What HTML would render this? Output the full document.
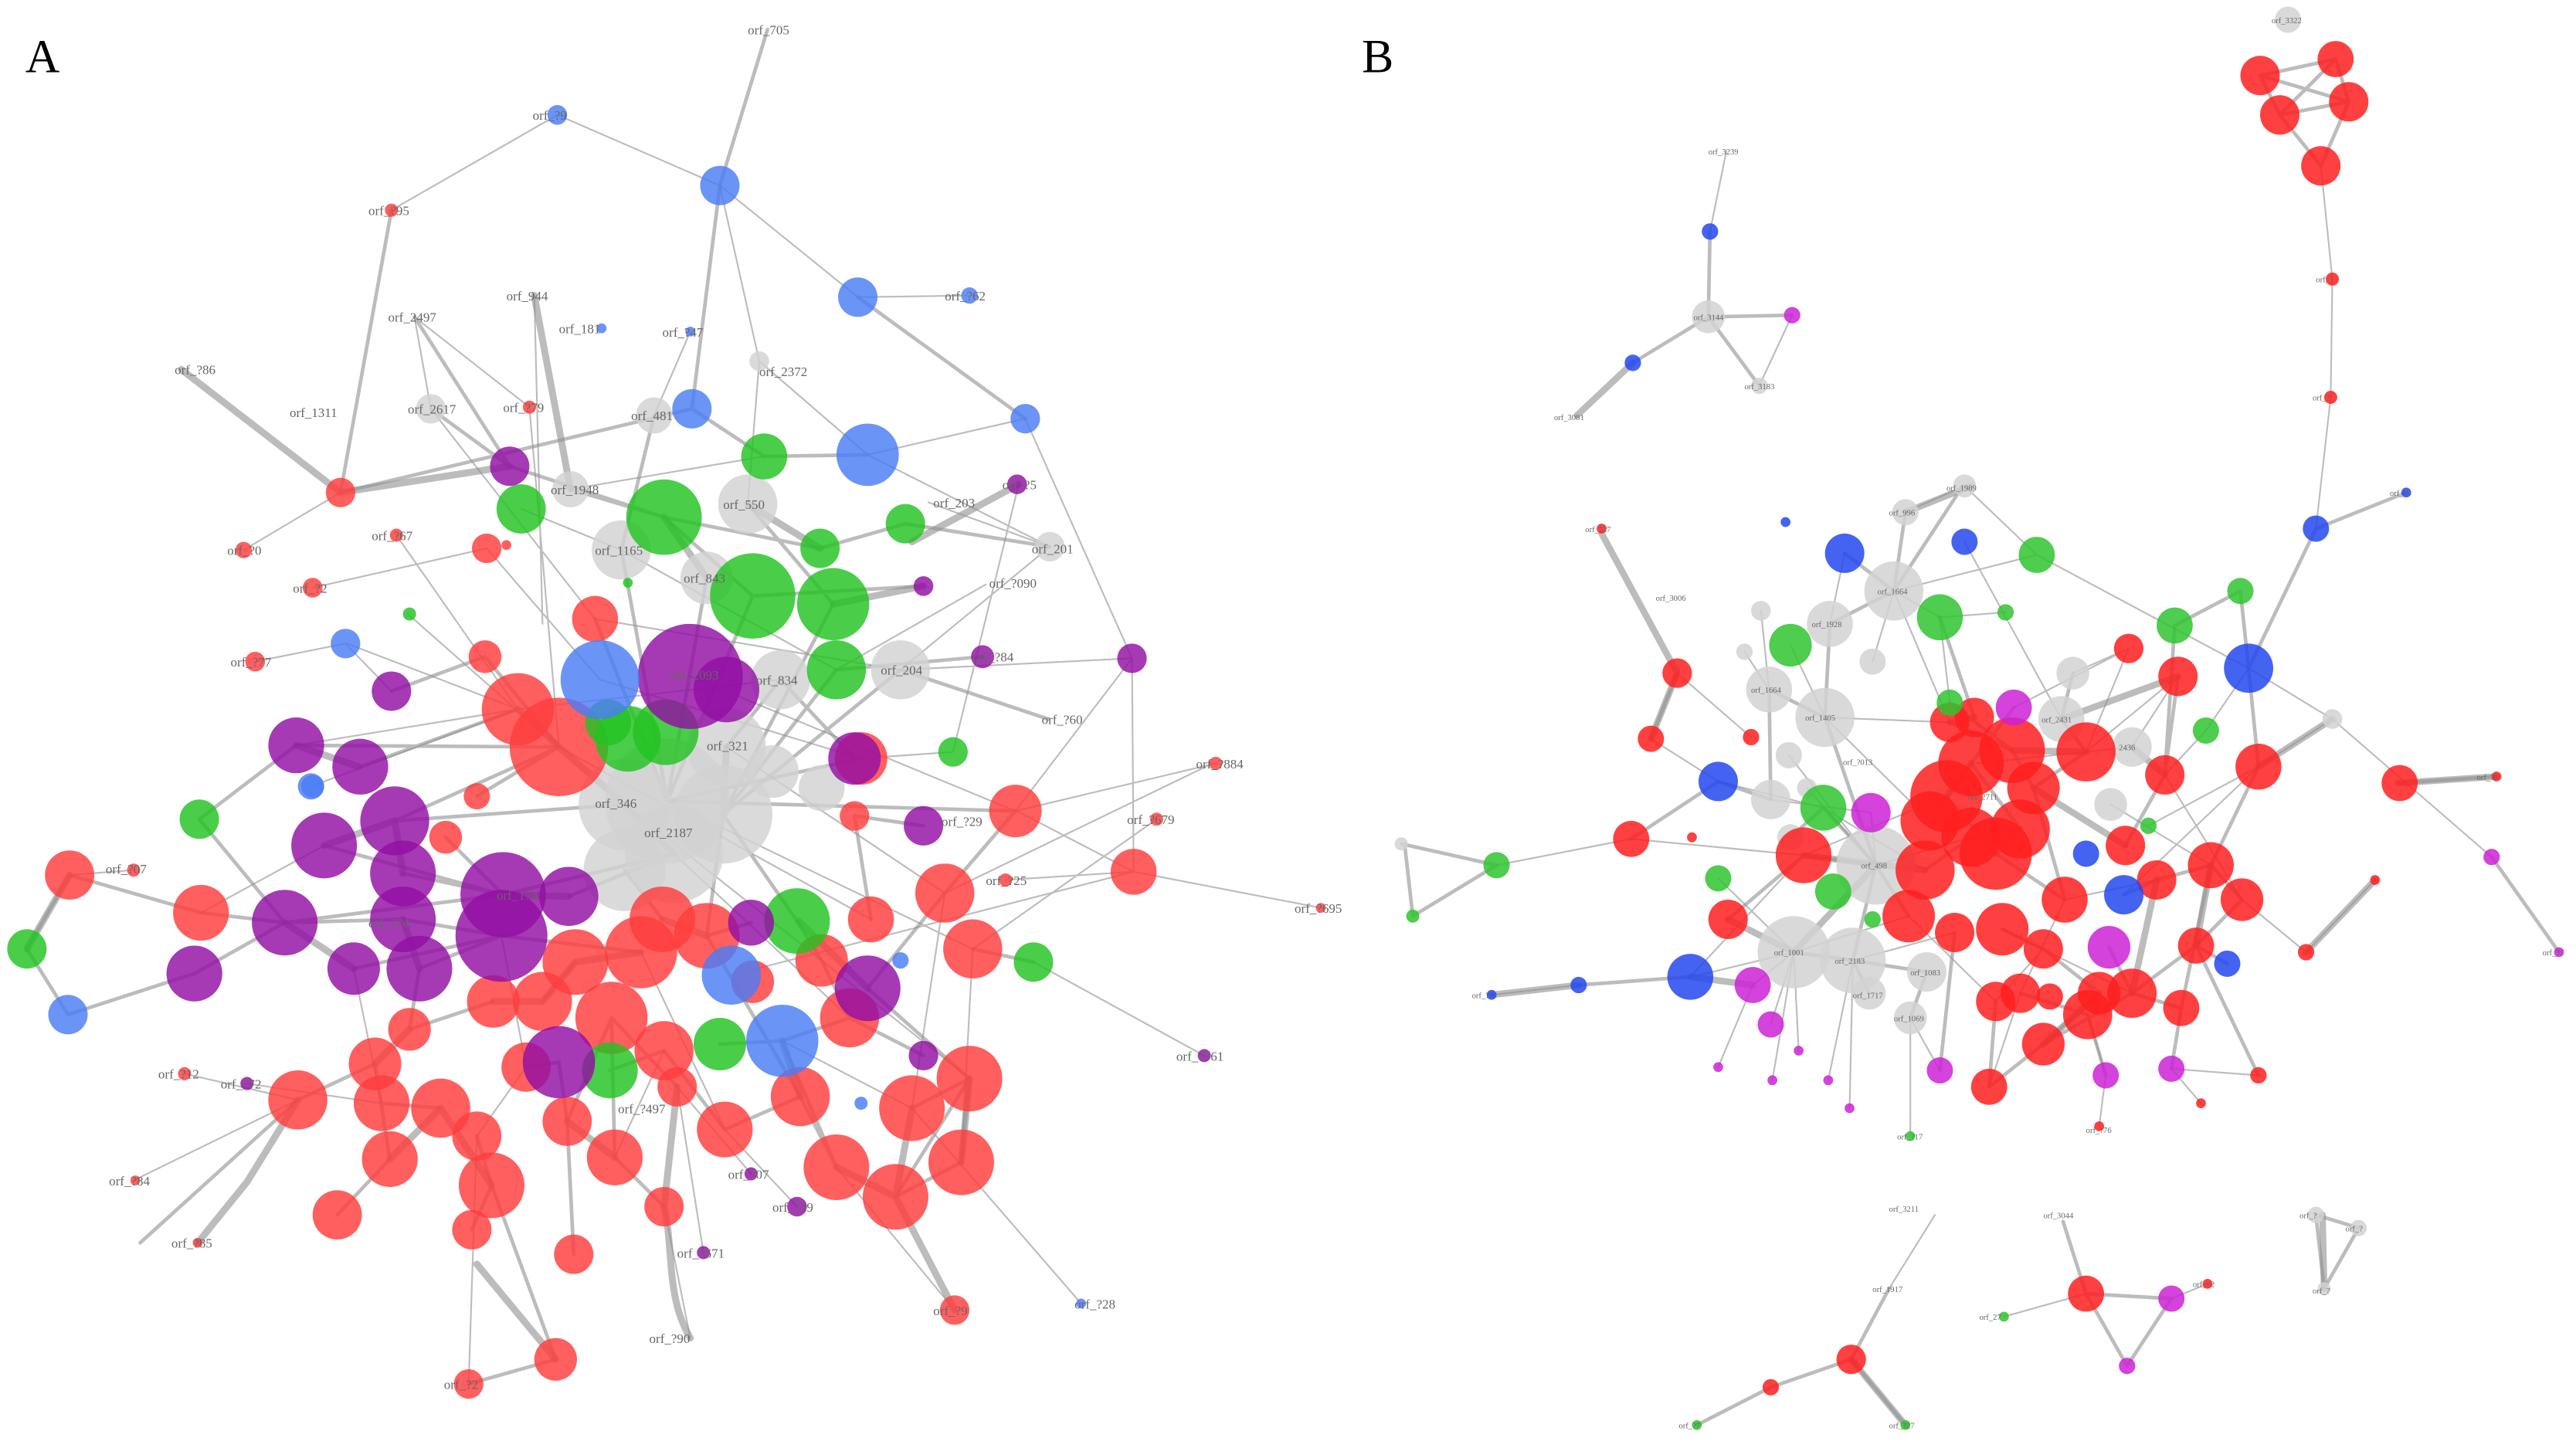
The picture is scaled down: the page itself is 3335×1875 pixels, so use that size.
<!DOCTYPE html>
<html><head><meta charset="utf-8"><style>
html,body{margin:0;padding:0;background:#fff}
svg{display:block}
text{font-family:"Liberation Serif",serif}
.l{font-size:8px;fill:#666}
</style></head><body>
<svg width="3335" height="1875" viewBox="0 0 1568 882" xmlns="http://www.w3.org/2000/svg">
<rect width="1568" height="882" fill="#fff"/>
<text x="15" y="44" font-size="29" fill="#000">A</text>
<text x="829" y="44" font-size="29" fill="#000">B</text>

<!-- ===== Panel A edges ===== -->
<g stroke="#8f8f8f" stroke-opacity="0.6" fill="none" stroke-linecap="round">
<path stroke-width="1" d="M339 70L438 113M339 70L238 128M438 113L522 181M522 181L590 180M624 255L689 401M689 401L690 531M252 193L262 249M325 180L330 380M528 277L639 333M639 333L548 408M689 401L618 494M740 465L618 494M704 499L592 578M804 553L690 531M733 643L629 586M658 794L555 675M148 335L207 300M190 358L296 334M155 403L210 392M81 530L42 533M112 654L181 670M81 719L181 670M420 202L398 253M462 220L455 307M462 220L528 277M565 306L639 333M241 326L315 432M322 248L340 455M600 356L509 408M211 392L315 432M738 465L575 544M612 536L690 531M581 798L509 711M420 815L404 735M285 843L290 692M445 594L690 531M150 660L232 672M485 735L441 688M457 715L412 662M428 763L412 662M620 295L580 458M624 255L528 277M248 374L340 455M252 193L322 248M180 454L315 432M619 494L690 531
M365 414L524 462M420 412L618 494M442 455L575 544M406 488L592 578M380 490L500 585M410 520L517 620M340 455L530 560M315 432L475 414M362 377L548 408M378 335L509 408M347 298L465 278M262 249L362 377M296 334L365 414M317 310L378 335M189 479L315 432M122 556L197 515M215 590L232 672M305 570L320 650M390 580L441 688M500 585L590 657M575 544L555 675M592 578L585 708M404 640L374 705M476 634L555 675M290 692L320 650M438 113L462 220M210 392L238 421M548 408L689 401M524 462L580 458"/>
<path stroke-width="2.2" d="M467 18L438 113M438 113L421 249M522 181L624 255M207 300L421 249M238 128L207 300M262 249L310 284M347 298L404 315M404 315L458 363M455 307L507 368M499 334L551 319M551 319L639 333M398 253L378 335M421 249L465 278M465 278L528 277M378 335L406 488M430 352L406 488M458 363L406 488M507 368L440 496M509 408L440 496M548 408L440 496M562 357L458 363M598 400L509 408M548 408L638 438M475 414L520 462M362 377L406 488M295 400L340 455M180 454L340 455M219 467L315 432M240 500L380 490M197 515L306 545M245 532L306 545M173 562L245 560M245 560L305 570M215 590L305 570M255 590L305 570M118 593L173 562M121 499L180 454M42 533L122 556M41 618L118 593M16 578L41 618M16 578L42 533M122 556L173 562M306 545L410 520M346 546L410 520M305 570L390 580M403 560L380 530M430 570L440 496M485 561L440 496M500 585L485 561M517 620L476 634M528 602L575 544M575 544L618 494M592 578L629 586M530 560L520 497M562 503L520 497M590 657L555 675M590 657L545 729M585 708L545 729M509 711L487 668M487 668L441 688M441 688L404 640M412 662L372 620M374 705L372 620M345 683L340 647M299 722L290 692M268 675L232 672M237 706L228 648M249 627L300 610M205 740L237 706M287 749L299 722M349 764L345 683M338 828L299 722M285 843L338 828M181 670L228 648M181 670L85 757M404 735L374 705M330 610L350 586M320 650L340 647M500 585L517 620M562 643L517 620M476 634L509 711M585 708L590 657M438 636L476 634M371 652L404 640M457 562L430 570M252 193L310 284M121 499L173 562M238 421L295 400M290 485L340 455M271 510L306 545M442 455L475 414M406 488L524 462M406 488L618 494
M404 315L499 334M310 284L404 315M173 562L306 545M240 500L340 455M255 590L249 627M430 570L487 668M372 620L345 683M528 602L590 657M232 672L268 675"/>
<path stroke-width="4.2" d="M110 225L207 300M325 180L347 298M207 300L310 284M455 307L499 334M507 368L562 357M404 315L430 352M380 490L410 520M442 455L440 496M340 455L380 490M315 432L340 455M240 500L245 532M197 515L240 500M173 562L215 590M255 590L245 560M306 545L346 546M42 533L16 578M390 580L350 586M403 560L430 570M486 561L528 602M555 675L545 729M509 711L545 729M404 735L412 662M420 815C405 790 410 760 404 735M338 828L290 770M237 706L268 675M299 722L268 675M374 705L345 683M590 657L585 708M581 798L545 729M476 634L487 668M350 586L330 610M330 610L300 610M249 627L228 648M181 670L150 720L120 757M620 295L555 330M218 467L180 454"/>
</g>

<!-- Panel A nodes -->
<g fill-opacity="0.82">
<g fill="#d2d2d2">
<circle cx="262" cy="249" r="9"/><circle cx="398" cy="253" r="11"/><circle cx="347" cy="298" r="11"/><circle cx="378" cy="335" r="18"/><circle cx="455" cy="307" r="18"/><circle cx="430" cy="352" r="16"/><circle cx="475" cy="414" r="18"/><circle cx="548" cy="408" r="18"/><circle cx="639" cy="333" r="9"/><circle cx="462" cy="220" r="6"/><circle cx="442" cy="455" r="24"/><circle cx="406" cy="488" r="38"/><circle cx="440" cy="496" r="30"/><circle cx="380" cy="490" r="28"/><circle cx="410" cy="520" r="30"/><circle cx="380" cy="530" r="25"/><circle cx="470" cy="470" r="16"/><circle cx="500" cy="480" r="14"/>
</g>
<g fill="#ff3c3c">
<circle cx="207" cy="300" r="9"/><circle cx="296" cy="334" r="9"/><circle cx="362" cy="377" r="14"/><circle cx="148" cy="335" r="5"/><circle cx="190" cy="358" r="6"/><circle cx="155" cy="403" r="6"/><circle cx="241" cy="326" r="4"/><circle cx="322" cy="248" r="4"/><circle cx="238" cy="128" r="4"/><circle cx="295" cy="400" r="10"/><circle cx="315" cy="432" r="22"/><circle cx="340" cy="455" r="30"/><circle cx="290" cy="485" r="8"/><circle cx="271" cy="510" r="10"/><circle cx="42" cy="533" r="15"/><circle cx="122" cy="556" r="17"/><circle cx="81" cy="530" r="4"/><circle cx="524" cy="462" r="16"/><circle cx="618" cy="494" r="16"/><circle cx="575" cy="544" r="18"/><circle cx="592" cy="578" r="18"/><circle cx="690" cy="531" r="14"/><circle cx="520" cy="497" r="9"/><circle cx="740" cy="465" r="4"/><circle cx="704" cy="499" r="4"/><circle cx="612" cy="536" r="4"/><circle cx="804" cy="553" r="3"/><circle cx="403" cy="560" r="20"/><circle cx="430" cy="570" r="20"/><circle cx="390" cy="580" r="22"/><circle cx="350" cy="586" r="20"/><circle cx="330" cy="610" r="18"/><circle cx="300" cy="610" r="16"/><circle cx="372" cy="620" r="22"/><circle cx="404" cy="640" r="18"/><circle cx="500" cy="585" r="16"/><circle cx="517" cy="620" r="18"/><circle cx="530" cy="560" r="14"/><circle cx="590" cy="657" r="20"/><circle cx="555" cy="675" r="20"/><circle cx="487" cy="668" r="18"/><circle cx="509" cy="711" r="20"/><circle cx="545" cy="729" r="20"/><circle cx="585" cy="708" r="20"/><circle cx="441" cy="688" r="17"/><circle cx="412" cy="662" r="12"/><circle cx="374" cy="705" r="17"/><circle cx="345" cy="683" r="15"/><circle cx="299" cy="722" r="20"/><circle cx="268" cy="675" r="18"/><circle cx="232" cy="672" r="17"/><circle cx="237" cy="706" r="17"/><circle cx="249" cy="627" r="13"/><circle cx="228" cy="648" r="16"/><circle cx="290" cy="692" r="15"/><circle cx="320" cy="650" r="15"/><circle cx="181" cy="670" r="18"/><circle cx="205" cy="740" r="15"/><circle cx="287" cy="749" r="12"/><circle cx="349" cy="764" r="12"/><circle cx="404" cy="735" r="12"/><circle cx="338" cy="828" r="13"/><circle cx="285" cy="843" r="9"/><circle cx="581" cy="798" r="9"/><circle cx="112" cy="654" r="4"/><circle cx="82" cy="719" r="3"/><circle cx="120" cy="757" r="3"/><circle cx="308" cy="332" r="3"/><circle cx="458" cy="598" r="13"/>
</g>
<g fill="#22c322">
<circle cx="465" cy="278" r="14"/><circle cx="317" cy="310" r="15"/><circle cx="404" cy="315" r="23"/><circle cx="499" cy="334" r="12"/><circle cx="551" cy="319" r="12"/><circle cx="458" cy="363" r="26"/><circle cx="507" cy="368" r="22"/><circle cx="509" cy="408" r="18"/><circle cx="382" cy="450" r="20"/><circle cx="405" cy="446" r="20"/><circle cx="370" cy="440" r="14"/><circle cx="121" cy="499" r="12"/><circle cx="16" cy="578" r="12"/><circle cx="580" cy="458" r="9"/><circle cx="485" cy="561" r="20"/><circle cx="438" cy="636" r="16"/><circle cx="371" cy="652" r="17"/><circle cx="629" cy="586" r="12"/><circle cx="249" cy="374" r="4"/><circle cx="382" cy="355" r="3"/>
</g>
<g fill="#930fa3">
<circle cx="310" cy="284" r="12"/><circle cx="619" cy="295" r="6"/><circle cx="562" cy="357" r="6"/><circle cx="598" cy="400" r="7"/><circle cx="689" cy="401" r="9"/><circle cx="238" cy="421" r="12"/><circle cx="180" cy="454" r="17"/><circle cx="219" cy="467" r="17"/><circle cx="240" cy="500" r="21"/><circle cx="197" cy="515" r="20"/><circle cx="245" cy="532" r="20"/><circle cx="173" cy="562" r="20"/><circle cx="245" cy="560" r="20"/><circle cx="215" cy="590" r="16"/><circle cx="255" cy="590" r="20"/><circle cx="118" cy="593" r="17"/><circle cx="306" cy="545" r="26"/><circle cx="346" cy="546" r="18"/><circle cx="305" cy="570" r="28"/><circle cx="420" cy="412" r="32"/><circle cx="442" cy="420" r="20"/><circle cx="340" cy="647" r="22"/><circle cx="528" cy="602" r="20"/><circle cx="520" cy="462" r="16"/><circle cx="562" cy="503" r="12"/><circle cx="562" cy="643" r="9"/><circle cx="457" cy="562" r="14"/><circle cx="485" cy="735" r="6"/><circle cx="428" cy="763" r="4"/><circle cx="457" cy="715" r="4"/><circle cx="150" cy="660" r="4"/><circle cx="733" cy="643" r="4"/>
</g>
<g fill="#4a7cf5">
<circle cx="339" cy="70" r="6"/><circle cx="438" cy="113" r="12"/><circle cx="522" cy="181" r="12"/><circle cx="590" cy="180" r="5"/><circle cx="624" cy="255" r="9"/><circle cx="421" cy="249" r="12"/><circle cx="528" cy="277" r="19"/><circle cx="210" cy="392" r="9"/><circle cx="189" cy="479" r="8"/><circle cx="41" cy="618" r="12"/><circle cx="365" cy="414" r="24"/><circle cx="445" cy="594" r="18"/><circle cx="476" cy="634" r="22"/><circle cx="548" cy="585" r="5"/><circle cx="658" cy="794" r="3"/><circle cx="524" cy="672" r="4"/><circle cx="420" cy="202" r="3"/><circle cx="366" cy="200" r="3"/><circle cx="190" cy="479" r="7"/>
</g>
</g>
<g class="l">
<text x="455" y="21">orf_705</text><text x="324" y="73">orf_?9</text><text x="224" y="131">orf_?95</text><text x="236" y="196">orf_2497</text><text x="308" y="183">orf_944</text><text x="340" y="203">orf_181</text><text x="403" y="205">orf_?47</text><text x="462" y="229">orf_2372</text><text x="575" y="183">orf_?62</text><text x="106" y="228">orf_?86</text><text x="176" y="254">orf_1311</text><text x="248" y="252">orf_2617</text><text x="306" y="251">orf_?79</text><text x="384" y="256">orf_481</text><text x="335" y="301">orf_1948</text><text x="440" y="310">orf_550</text><text x="568" y="309">orf_203</text><text x="628" y="337">orf_201</text><text x="362" y="338">orf_1165</text><text x="416" y="355">orf_843</text><text x="602" y="358">orf_?090</text><text x="138" y="338">orf_?0</text><text x="178" y="361">orf_?2</text><text x="226" y="329">orf_?67</text><text x="140" y="406">orf_?77</text><text x="536" y="411">orf_204</text><text x="408" y="414">orf_2093</text><text x="460" y="417">orf_834</text><text x="430" y="457">orf_321</text><text x="362" y="492">orf_346</text><text x="392" y="510">orf_2187</text><text x="302" y="548">orf_174</text><text x="224" y="565">orf_2?4</text><text x="728" y="468">orf_?884</text><text x="686" y="502">orf_?679</text><text x="788" y="556">orf_?695</text><text x="716" y="646">orf_?761</text><text x="64" y="532">orf_?07</text><text x="96" y="657">orf_?12</text><text x="134" y="663">orf_?72</text><text x="66" y="722">orf_?84</text><text x="104" y="760">orf_?85</text><text x="376" y="678">orf_?497</text><text x="470" y="738">orf_?29</text><text x="443" y="718">orf_?07</text><text x="412" y="766">orf_?671</text><text x="395" y="818">orf_?90</text><text x="270" y="846">orf_?2</text><text x="568" y="801">orf_?9</text><text x="654" y="797">orf_?28</text><text x="600" y="539">orf_?25</text><text x="573" y="503">orf_?29</text><text x="634" y="441">orf_?60</text><text x="592" y="403">orf_?84</text><text x="610" y="298">orf_?5</text>
</g>

<!-- ===== Panel B edges ===== -->
<g stroke="#8f8f8f" stroke-opacity="0.6" fill="none" stroke-linecap="round">
<path stroke-width="1" d="M1413 101L1420 170M1420 170L1419 242M1419 242L1410 322M1051 92L1041 141M1091 192L1071 235M1160 312L1196 296M1196 296L1240 338M1153 360L1240 338M1123 337L1114 380M1072 372L1077 420M1062 397L1077 420M1090 393L1111 437M1140 403L1153 360M1196 330L1255 438M1181 376L1187 428M1221 373L1181 376M1100 480L1142 527M1089 460L1142 527M1021 410L1066 449M1005 450L1046 476M993 511L1098 521M911 527L993 511M1046 535L1092 580M1067 600L1092 580M1078 624L1092 580M1095 640L1092 580M1046 650L1067 600M1079 658L1092 580M1113 658L1128 585M1126 675L1128 585M1181 652L1163 620M1163 692L1163 620M1282 655L1271 618M1278 686L1282 655M1340 672L1322 651M1375 655L1322 651M1404 580L1365 548M1446 536L1404 580M1420 438L1375 467M1420 438L1369 407M1517 522L1420 438M1308 503L1375 467M1343 445L1318 472M1262 410L1296 395M1296 395L1270 458M1326 412L1298 455M1369 407L1343 445M961 600L908 606M1110 492L1172 530M1139 495L1142 527M1030 595L1092 580M1178 740L1150 785M1270 788L1220 802M1322 791L1344 782M1240 338L1369 407M1153 360L1181 376M1111 437L1187 440M1285 490L1346 527M1293 545L1375 467M1203 465L1298 455
M1142 527L1200 510M1092 580L1162 558M1128 585L1190 568M1111 437L1175 500M1153 360L1187 440M1078 487L1139 495M1098 521L1185 485M1219 566L1298 605M1257 548L1313 536M1215 610L1244 578M1230 605L1257 548M1211 662L1230 605M1162 558L1215 610M1029 595L1098 521M1046 476L1110 492M1318 472L1365 548M1270 458L1326 412M1226 431L1296 395"/>
<path stroke-width="2.2" d="M1376 46L1422 36M1376 46L1388 70M1422 36L1430 62M1388 70L1430 62M1388 70L1413 101M1430 62L1413 101M1376 46L1430 62M1422 36L1388 70M1410 322L1369 407M1410 322L1465 300M1041 141L1040 193M1040 193L1091 192M1071 235L1040 193M1040 193L994 221M853 514L911 527M855 514L860 558M860 558L911 527M1123 337L1153 360M1153 360L1114 380M1114 380L1111 437M1077 420L1111 437M1111 437L1142 527M1077 420L1078 487M1181 376L1202 437M1187 428L1225 457M1226 431L1200 465M1255 438L1270 458M1262 410L1255 438M1324 381L1364 360M1324 381L1318 472M1364 360L1369 407M1369 407L1375 467M1375 467L1346 527M1326 412L1318 472M1318 472L1294 515M1346 527L1365 548M1313 536L1346 527M1337 576L1365 548M1298 605L1337 576M1284 577L1298 605M1278 605L1244 636M1271 618L1230 605M1244 636L1211 662M1215 610L1211 662M1219 566L1244 578M1257 548L1238 480M1162 558L1142 527M1098 521L1142 527M1052 560L1098 521M1046 476L1078 487M1005 450L1021 410M993 511L1046 476M1092 580L1128 585M1128 585L1142 527M1128 585L1173 592M1173 592L1163 620M1138 605L1128 585M1090 510L1110 492M1110 492L1142 527M1187 440L1225 457M1225 457L1238 480M1200 465L1230 505M1185 485L1215 520M1270 458L1238 480M1172 530L1200 510M1200 510L1230 505M1175 500L1200 465M1215 520L1257 548M1244 578L1278 605M1293 545L1313 536M1356 587L1337 576M1328 614L1298 605M1322 651L1328 614M1282 655L1271 618M1181 652L1190 568M1375 655L1337 576M1460 477L1520 473M1127 828L1078 845M1127 828L1160 868M1127 828L1150 785M1270 788L1322 791M1270 788L1295 832M1322 791L1295 832M1270 788L1256 744M1410 740L1436 748M1410 740L1415 785M1436 748L1415 785M1078 845L1033 868M1517 522L1558 580M961 600L1029 595M1195 296L1153 360M1160 312L1153 360M1244 636L1298 605M1346 527L1328 614"/>
<path stroke-width="4" d="M994 221L960 253M1414 740L1415 785M1200 465L1185 485M1230 505L1215 520M1270 458L1225 457M1187 440L1202 437M1238 480L1294 515M1460 477L1520 473M1375 467L1420 438M1052 560L1092 580M1142 527L1092 580M1029 595L1067 600M1127 828L1160 868M908 606L961 600M1098 521L1172 530M1255 438L1326 412M1298 605L1313 536M1346 527L1337 576M1244 636L1278 605M1298 455L1318 472M1404 580L1446 536M1005 450L1021 410M1021 410L975 325M1160 312L1200 296"/>
</g>

<!-- Panel B nodes -->
<g fill-opacity="0.85">
<g fill="#d2d2d2">
<circle cx="1393" cy="12" r="8"/><circle cx="1040" cy="193" r="10"/><circle cx="1071" cy="235" r="5"/><circle cx="853" cy="514" r="4"/><circle cx="1160" cy="312" r="8"/><circle cx="1196" cy="296" r="7"/><circle cx="1153" cy="360" r="18"/><circle cx="1114" cy="380" r="14"/><circle cx="1077" cy="420" r="14"/><circle cx="1111" cy="437" r="18"/><circle cx="1140" cy="403" r="8"/><circle cx="1072" cy="372" r="6"/><circle cx="1062" cy="397" r="5"/><circle cx="1078" cy="487" r="12"/><circle cx="1089" cy="460" r="8"/><circle cx="1142" cy="527" r="24"/><circle cx="1092" cy="580" r="22"/><circle cx="1128" cy="585" r="20"/><circle cx="1173" cy="592" r="12"/><circle cx="1163" cy="620" r="10"/><circle cx="1138" cy="605" r="10"/><circle cx="1090" cy="510" r="8"/><circle cx="1255" cy="438" r="14"/><circle cx="1262" cy="410" r="10"/><circle cx="1298" cy="455" r="12"/><circle cx="1285" cy="490" r="10"/><circle cx="1420" cy="438" r="6"/><circle cx="1100" cy="480" r="6"/><circle cx="1410" cy="740" r="5"/><circle cx="1436" cy="748" r="5"/><circle cx="1415" cy="785" r="4"/>
</g>
<g fill="#ff1e1e">
<circle cx="1376" cy="46" r="12"/><circle cx="1422" cy="36" r="11"/><circle cx="1388" cy="70" r="12"/><circle cx="1430" cy="62" r="12"/><circle cx="1413" cy="101" r="12"/><circle cx="1420" cy="170" r="4"/><circle cx="1419" cy="242" r="4"/>
<circle cx="1187" cy="440" r="12"/><circle cx="1202" cy="437" r="12"/><circle cx="1225" cy="457" r="20"/><circle cx="1200" cy="465" r="20"/><circle cx="1270" cy="458" r="18"/><circle cx="1185" cy="485" r="22"/><circle cx="1238" cy="480" r="16"/><circle cx="1215" cy="520" r="22"/><circle cx="1230" cy="505" r="18"/><circle cx="1172" cy="530" r="18"/><circle cx="1200" cy="510" r="18"/><circle cx="1175" cy="500" r="18"/><circle cx="1162" cy="558" r="16"/><circle cx="1190" cy="568" r="12"/><circle cx="1219" cy="566" r="16"/><circle cx="1257" cy="548" r="14"/><circle cx="1244" cy="578" r="12"/><circle cx="1294" cy="515" r="12"/><circle cx="1326" cy="412" r="12"/><circle cx="1296" cy="395" r="9"/><circle cx="1318" cy="472" r="12"/><circle cx="1346" cy="527" r="14"/><circle cx="1313" cy="536" r="12"/><circle cx="1365" cy="548" r="13"/><circle cx="1337" cy="576" r="11"/><circle cx="1278" cy="605" r="13"/><circle cx="1298" cy="605" r="15"/><circle cx="1248" cy="607" r="8"/><circle cx="1230" cy="605" r="12"/><circle cx="1271" cy="618" r="15"/><circle cx="1215" cy="610" r="12"/><circle cx="1244" cy="636" r="13"/><circle cx="1211" cy="662" r="11"/><circle cx="1375" cy="467" r="14"/><circle cx="1328" cy="614" r="11"/><circle cx="1098" cy="521" r="17"/><circle cx="1052" cy="560" r="12"/><circle cx="993" cy="511" r="11"/><circle cx="1005" cy="450" r="8"/><circle cx="1021" cy="410" r="9"/><circle cx="1066" cy="449" r="5"/><circle cx="1375" cy="655" r="5"/><circle cx="1404" cy="580" r="5"/><circle cx="1461" cy="477" r="11"/><circle cx="1520" cy="473" r="3"/><circle cx="1340" cy="672" r="3"/><circle cx="1278" cy="686" r="3"/><circle cx="1446" cy="536" r="3"/><circle cx="975" cy="322" r="3"/><circle cx="1030" cy="510" r="3"/>
<circle cx="1127" cy="828" r="9"/><circle cx="1078" cy="845" r="5"/><circle cx="1270" cy="788" r="11"/><circle cx="1344" cy="782" r="3"/>
</g>
<g fill="#2448ee">
<circle cx="1041" cy="141" r="5"/><circle cx="994" cy="221" r="5"/><circle cx="1123" cy="337" r="12"/><circle cx="1196" cy="330" r="8"/><circle cx="1369" cy="407" r="15"/><circle cx="1046" cy="476" r="12"/><circle cx="1029" cy="595" r="14"/><circle cx="1293" cy="545" r="12"/><circle cx="1356" cy="587" r="8"/><circle cx="1270" cy="520" r="8"/><circle cx="1410" cy="322" r="8"/><circle cx="961" cy="600" r="5"/><circle cx="908" cy="606" r="3"/><circle cx="1465" cy="300" r="3"/><circle cx="1087" cy="318" r="3"/>
</g>
<g fill="#2fc42f">
<circle cx="1240" cy="338" r="11"/><circle cx="1181" cy="376" r="14"/><circle cx="1090" cy="393" r="13"/><circle cx="1221" cy="373" r="5"/><circle cx="1364" cy="360" r="8"/><circle cx="1324" cy="381" r="11"/><circle cx="1187" cy="428" r="8"/><circle cx="1343" cy="445" r="8"/><circle cx="1110" cy="492" r="14"/><circle cx="1308" cy="503" r="5"/><circle cx="1046" cy="535" r="8"/><circle cx="1116" cy="543" r="11"/><circle cx="1140" cy="560" r="5"/><circle cx="911" cy="527" r="8"/><circle cx="860" cy="558" r="4"/><circle cx="1033" cy="868" r="3"/><circle cx="1160" cy="868" r="3"/><circle cx="1220" cy="802" r="3"/><circle cx="1163" cy="692" r="3"/>
</g>
<g fill="#cc22d6">
<circle cx="1139" cy="495" r="12"/><circle cx="1226" cy="431" r="11"/><circle cx="1284" cy="577" r="13"/><circle cx="1067" cy="600" r="11"/><circle cx="1078" cy="624" r="8"/><circle cx="1181" cy="652" r="8"/><circle cx="1282" cy="655" r="8"/><circle cx="1322" cy="651" r="8"/><circle cx="1517" cy="522" r="5"/><circle cx="1091" cy="192" r="5"/><circle cx="1322" cy="791" r="8"/><circle cx="1295" cy="832" r="5"/><circle cx="1095" cy="640" r="3"/><circle cx="1046" cy="650" r="3"/><circle cx="1079" cy="658" r="3"/><circle cx="1113" cy="658" r="3"/><circle cx="1126" cy="675" r="3"/><circle cx="1558" cy="580" r="3"/>
</g>
</g>
<g class="l" style="font-size:5px">
<text x="1383" y="14">orf_3322</text><text x="1040" y="94">orf_3239</text><text x="1031" y="195">orf_3144</text><text x="1062" y="237">orf_3183</text><text x="946" y="256">orf_3081</text><text x="965" y="324">orf_?27</text><text x="1008" y="366">orf_3006</text><text x="1143" y="362">orf_1664</text><text x="1103" y="382">orf_1928</text><text x="1066" y="422">orf_1664</text><text x="1099" y="439">orf_1405</text><text x="1185" y="299">orf_1989</text><text x="1150" y="314">orf_996</text><text x="1133" y="529">orf_498</text><text x="1080" y="582">orf_1001</text><text x="1117" y="587">orf_2183</text><text x="1128" y="608">orf_1717</text><text x="1163" y="594">orf_1083</text><text x="1153" y="622">orf_1069</text><text x="1122" y="466">orf_?013</text><text x="1243" y="440">orf_2431</text><text x="1290" y="457">2436</text><text x="1198" y="487">orf_2711</text><text x="1150" y="738">orf_3211</text><text x="1140" y="787">orf_1917</text><text x="1244" y="742">orf_3044</text><text x="1400" y="742">orf_?</text><text x="1428" y="750">orf_?</text><text x="1408" y="788">orf_?</text><text x="1205" y="804">orf_27</text><text x="1335" y="784">orf_32</text><text x="1022" y="870">orf_?7</text><text x="1150" y="870">orf_?27</text><text x="1155" y="694">orf_?17</text><text x="1270" y="690">orf_?76</text><text x="896" y="608">orf_?</text><text x="1508" y="475">orf_?0</text><text x="1548" y="582">orf_?7</text><text x="1410" y="172">orf_?</text><text x="1408" y="244">orf_?</text><text x="1455" y="302">orf_?4</text>
</g>
</svg>
</body></html>
